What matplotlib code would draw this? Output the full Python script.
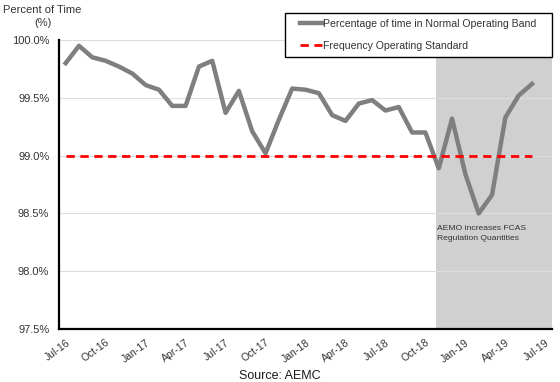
import numpy as np
import matplotlib
matplotlib.use('Agg')
import matplotlib.pyplot as plt
from matplotlib.patches import Rectangle

plt.rcParams['font.family'] = ['Liberation Sans', 'DejaVu Sans']

# monthly values, Jul-16 .. Jun-19
months = ['Jul-16', 'Aug-16', 'Sep-16', 'Oct-16', 'Nov-16', 'Dec-16',
          'Jan-17', 'Feb-17', 'Mar-17', 'Apr-17', 'May-17', 'Jun-17',
          'Jul-17', 'Aug-17', 'Sep-17', 'Oct-17', 'Nov-17', 'Dec-17',
          'Jan-18', 'Feb-18', 'Mar-18', 'Apr-18', 'May-18', 'Jun-18',
          'Jul-18', 'Aug-18', 'Sep-18', 'Oct-18', 'Nov-18', 'Dec-18',
          'Jan-19', 'Feb-19', 'Mar-19', 'Apr-19', 'May-19', 'Jun-19']
pct_normal = [99.80, 99.95, 99.85, 99.82, 99.77, 99.71,
              99.61, 99.57, 99.43, 99.43, 99.77, 99.82,
              99.37, 99.56, 99.21, 99.02, 99.31, 99.58,
              99.57, 99.54, 99.35, 99.30, 99.45, 99.48,
              99.39, 99.42, 99.20, 99.20, 98.89, 99.32,
              98.84, 98.50, 98.66, 99.33, 99.52, 99.62]
standard = 99.0
tick_labels = ['Jul-16', 'Oct-16', 'Jan-17', 'Apr-17', 'Jul-17', 'Oct-17',
               'Jan-18', 'Apr-18', 'Jul-18', 'Oct-18', 'Jan-19', 'Apr-19', 'Jul-19']
yticks = [97.5, 98.0, 98.5, 99.0, 99.5, 100.0]
shade_start = 27.8  # FCAS regulation increase (mid Nov-18)

x = np.arange(len(months))
txt = '#333333'
W, H = 560, 382

fig = plt.figure(figsize=(5.6, 3.82), dpi=100)
ax = fig.add_axes([0.1054, 0.1387, 0.8803, 0.7566])

ax.axvspan(shade_start, 36.5, color='#d0d0d0', zorder=0, lw=0)
for v in yticks:
    ax.axhline(v, color='#dddddd', lw=0.8, zorder=1)

ax.plot(x, pct_normal, color='#7f7f7f', lw=3.2, zorder=3,
        label='Percentage of time in Normal Operating Band')
ax.plot(x, [standard] * len(x), color='#ff0000', lw=2, ls=(0, (3, 2)), zorder=4,
        label='Frequency Operating Standard')

ax.set_xlim(-0.5, 36.5)
ax.set_ylim(97.5, 100.0)
ax.set_yticks(yticks)
ax.set_yticklabels(['%.1f%%' % v for v in yticks], fontsize=8, color=txt)
ax.set_xticks(np.arange(0, 37, 3))
ax.set_xticklabels(tick_labels, rotation=36, ha='right', rotation_mode='anchor',
                   fontsize=7.5, color=txt)
ax.tick_params(length=0)
ax.tick_params(axis='y', pad=7)
ax.tick_params(axis='x', pad=6)
for s in ['top', 'right']:
    ax.spines[s].set_visible(False)
for s in ['left', 'bottom']:
    ax.spines[s].set_linewidth(1.6)
    ax.spines[s].set_color('black')

ax.text(shade_start + 0.1, 98.36, 'AEMO increases FCAS', fontsize=6.1, color=txt)
ax.text(shade_start + 0.1, 98.27, 'Regulation Quantities', fontsize=6.1, color=txt)

fig.text(0.076, 1 - 10 / H, 'Percent of Time', fontsize=8, color=txt, ha='center', va='center')
fig.text(0.076, 1 - 23 / H, '(%)', fontsize=8, color=txt, ha='center', va='center')
fig.text(0.5, 0.0, 'Source: AEMC', fontsize=9, color='#1a1a1a', ha='center', va='bottom')

# legend box drawn separately for wider side padding
box = Rectangle((285 / W, 1 - 57 / H), 267 / W, 44 / H, transform=fig.transFigure,
                facecolor='white', edgecolor='black', lw=1.0, zorder=8, clip_on=False)
ax.add_patch(box)
leg = ax.legend(loc='upper left', bbox_to_anchor=(300 / W, 1 - 19 / H),
                bbox_transform=fig.transFigure, fontsize=7.6, frameon=False,
                borderaxespad=0, borderpad=0, handlelength=2.1, handletextpad=0.1,
                labelspacing=1.15)
leg.set_zorder(10)
for t in leg.get_texts():
    t.set_color(txt)

fig.savefig('out.png', dpi=100)
